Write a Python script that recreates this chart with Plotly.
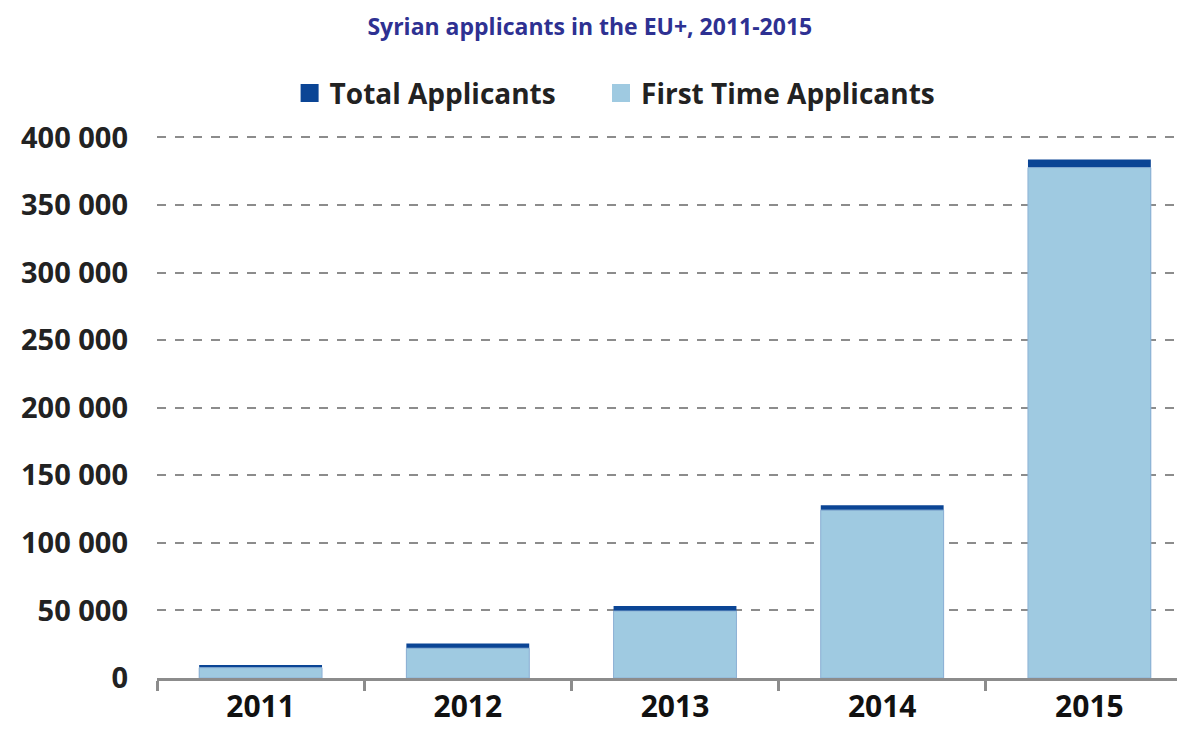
import plotly.graph_objects as go

years = ["2011", "2012", "2013", "2014", "2015"]
total_applicants = [9600, 25600, 53200, 127900, 383700]
first_time_applicants = [7600, 22000, 49500, 124200, 377600]
tick_vals = [0, 50000, 100000, 150000, 200000, 250000, 300000, 350000, 400000]
tick_text = ["0", "50 000", "100 000", "150 000", "200 000", "250 000",
             "300 000", "350 000", "400 000"]

FONT = "Open Sans"
DARK = "#0B4595"
LIGHT = "#9FCAE1"

fig = go.Figure()
fig.add_trace(go.Bar(
    x=years, y=total_applicants, showlegend=False,
    marker=dict(color=DARK, line=dict(width=0)), width=0.593,
))
fig.add_trace(go.Bar(
    x=years, y=first_time_applicants, showlegend=False,
    marker=dict(color=LIGHT, line=dict(color="#8FB3D6", width=1)), width=0.593,
))
# legend entries with big square swatches, one legend box each
for name, col, leg in [("Total Applicants", DARK, "legend"),
                       ("First Time Applicants", LIGHT, "legend2")]:
    fig.add_trace(go.Scatter(
        x=[None], y=[None], mode="markers", name=f"<b>{name}</b>", legend=leg,
        marker=dict(symbol="square", size=16, color=col, line=dict(color=col, width=2)),
    ))

leg_style = dict(
    orientation="h", xanchor="left", y=1.079, yanchor="middle",
    font=dict(size=28, color="#222222", family=FONT), itemwidth=30,
)

fig.update_layout(
    width=1185, height=736,
    barmode="overlay",
    plot_bgcolor="white", paper_bgcolor="white",
    margin=dict(l=149, r=0, t=128, b=66),
    font=dict(family=FONT, color="#222222"),
    title=dict(
        text="<b>Syrian applicants in the EU+, 2011-2015</b>",
        font=dict(size=23, color="#2E3192", family=FONT),
        x=0.491, xanchor="center", y=0.974, yanchor="middle",
    ),
    legend=dict(x=0.128, **leg_style),
    legend2=dict(x=0.4286, **leg_style),
    xaxis=dict(
        showline=True, linecolor="#8C8C8C", linewidth=3,
        ticks="outside", tickson="boundaries", ticklen=10, tickwidth=3,
        tickcolor="#8C8C8C",
        tickvals=years, ticktext=[f"<b>{y}</b>" for y in years],
        tickfont=dict(size=30, color="#111111", family=FONT),
        showgrid=False,
    ),
    yaxis=dict(
        range=[0, 401000], tickvals=tick_vals,
        ticktext=[f"<b>{t}</b>" for t in tick_text],
        tickfont=dict(size=29, color="#222222", family=FONT),
        showgrid=True, gridcolor="#8C8C8C", griddash="dash", gridwidth=2,
        zeroline=False, showline=False, ticklabelstandoff=28,
    ),
)

fig.write_html("out.html")
